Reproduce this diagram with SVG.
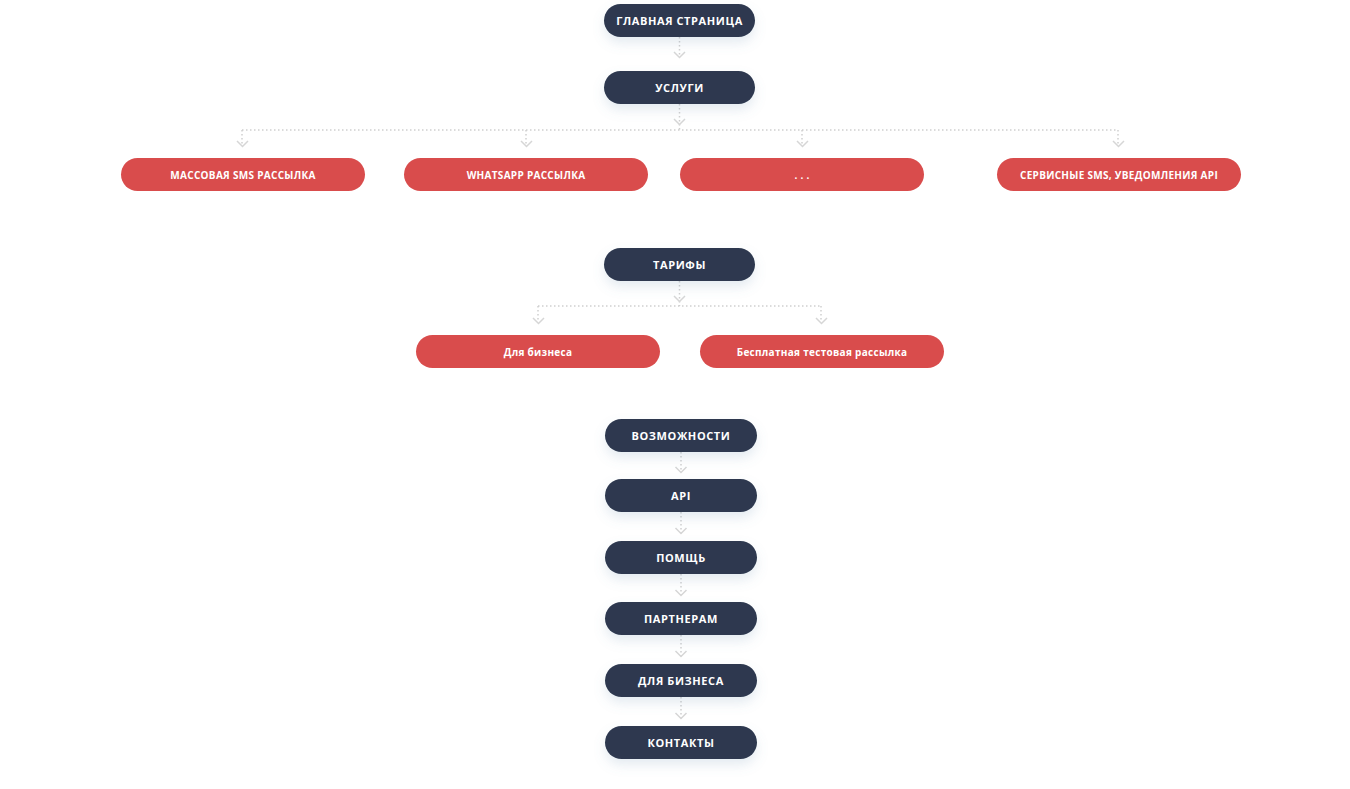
<svg xmlns="http://www.w3.org/2000/svg" width="1350" height="789" viewBox="0 0 1350 789">
<defs>
<style>
.d{fill:#2e394f;filter:url(#sh)}
.r{fill:#d94c4c}
.t{font-family:"Open Sans",sans-serif;font-weight:700;fill:#fff;text-anchor:middle;dominant-baseline:central}
.td{font-size:11px;letter-spacing:0.6px}
.tr{font-size:10px;letter-spacing:0.3px}
.ln{stroke:#cfcfcf;stroke-width:1.5;stroke-dasharray:1.5 2.5;fill:none}
.ch{stroke:#d6d6d6;stroke-width:1.5;fill:none}
</style>
<filter id="sh" x="-30%" y="-50%" width="160%" height="250%">
<feDropShadow dx="0" dy="6" stdDeviation="6" flood-color="#6a8fb0" flood-opacity="0.18"/>
</filter>
</defs>
<rect width="1350" height="789" fill="#fff"/>
<g id="connectors">
<path class="ln" d="M679.5 37V56M679.5 104V130M242 130H1118M242 130V144M526 130V144M802 130V144M1118 130V144M679.5 281V306M538 306H821M538 306V322M821 306V322M681 452V472M681 512V534M681 574V595M681 635V657M681 697V719"/>
<path class="ch" d="M674 52l5.5 5.5 5.5-5.5M674 119l5.5 5.5 5.5-5.5M237 141l5.5 5.5 5.5-5.5M521 141l5.5 5.5 5.5-5.5M797 141l5.5 5.5 5.5-5.5M1113 141l5.5 5.5 5.5-5.5M674 296l5.5 5.5 5.5-5.5M533 318l5.5 5.5 5.5-5.5M816 318l5.5 5.5 5.5-5.5M675.5 467l5.5 5.5 5.5-5.5M675.5 528l5.5 5.5 5.5-5.5M675.5 590l5.5 5.5 5.5-5.5M675.5 651l5.5 5.5 5.5-5.5M675.5 713l5.5 5.5 5.5-5.5"/>
</g>
<g id="n1"><rect class="d" x="604" y="4" width="151" height="33" rx="16.5"/><text class="t td" x="679.5" y="20.5">ГЛАВНАЯ СТРАНИЦА</text></g>
<g id="n2"><rect class="d" x="604" y="71" width="151" height="33" rx="16.5"/><text class="t td" x="679.5" y="87.5">УСЛУГИ</text></g>
<g id="n3"><rect class="r" x="121" y="158" width="244" height="33" rx="16.5"/><text class="t tr" x="243" y="174.5">МАССОВАЯ SMS РАССЫЛКА</text></g>
<g id="n4"><rect class="r" x="404" y="158" width="244" height="33" rx="16.5"/><text class="t tr" x="526" y="174.5">WHATSAPP РАССЫЛКА</text></g>
<g id="n5"><rect class="r" x="680" y="158" width="244" height="33" rx="16.5"/><text class="t tr" x="802" y="174.5">. . .</text></g>
<g id="n6"><rect class="r" x="997" y="158" width="244" height="33" rx="16.5"/><text class="t tr" x="1119" y="174.5">СЕРВИСНЫЕ SMS, УВЕДОМЛЕНИЯ API</text></g>
<g id="n7"><rect class="d" x="604" y="248" width="151" height="33" rx="16.5"/><text class="t td" x="679.5" y="264.5">ТАРИФЫ</text></g>
<g id="n8"><rect class="r" x="416" y="335" width="244" height="33" rx="16.5"/><text class="t tr" x="538" y="351.5">Для бизнеса</text></g>
<g id="n9"><rect class="r" x="700" y="335" width="244" height="33" rx="16.5"/><text class="t tr" x="822" y="351.5">Бесплатная тестовая рассылка</text></g>
<g id="n10"><rect class="d" x="605" y="419" width="152" height="33" rx="16.5"/><text class="t td" x="681" y="435.5">ВОЗМОЖНОСТИ</text></g>
<g id="n11"><rect class="d" x="605" y="479" width="152" height="33" rx="16.5"/><text class="t td" x="681" y="495.5">API</text></g>
<g id="n12"><rect class="d" x="605" y="541" width="152" height="33" rx="16.5"/><text class="t td" x="681" y="557.5">ПОМЩЬ</text></g>
<g id="n13"><rect class="d" x="605" y="602" width="152" height="33" rx="16.5"/><text class="t td" x="681" y="618.5">ПАРТНЕРАМ</text></g>
<g id="n14"><rect class="d" x="605" y="664" width="152" height="33" rx="16.5"/><text class="t td" x="681" y="680.5">ДЛЯ БИЗНЕСА</text></g>
<g id="n15"><rect class="d" x="605" y="726" width="152" height="33" rx="16.5"/><text class="t td" x="681" y="742.5">КОНТАКТЫ</text></g>
</svg>
